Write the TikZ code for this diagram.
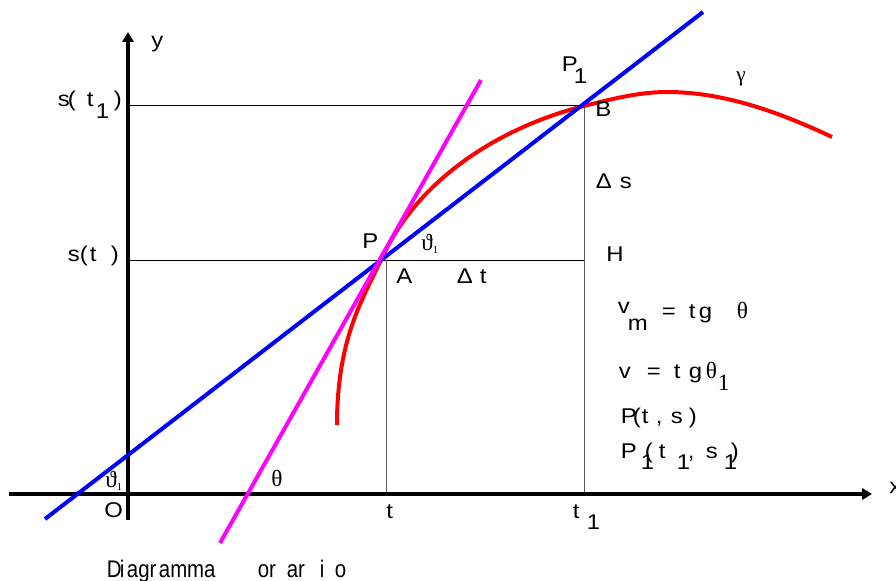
\documentclass[tikz,border=0pt]{standalone}
\usepackage{fontspec}
\setmainfont{Liberation Sans}
\newfontfamily\lblfont{Liberation Sans}[FakeStretch=1.12]
\newfontfamily\ttlfont{Liberation Sans}[FakeStretch=0.85]
\newfontfamily\grk{Liberation Serif}
\usetikzlibrary{arrows.meta}
\newdimen\pxu \pxu=0.75pt
\newcommand{\placeat}[2]{\makebox[0pt][l]{\hspace{#1\pxu}#2}}
\newcommand{\lowone}{\raisebox{-8.5pt}{1}}
\newcommand{\grbig}{\grk\fontsize{17.5}{18}\selectfont}
\newcommand{\varthone}{{\grbig ϑ}\raisebox{-0.3ex}{\grk\fontsize{8}{8}\selectfont 1}}
\definecolor{mgt}{RGB}{255,0,255}
\definecolor{pblue}{RGB}{0,0,255}
\definecolor{pred}{RGB}{255,0,0}
\begin{document}
\begin{tikzpicture}[x=0.75pt,y=-0.75pt,
  lbl/.style={inner sep=0pt, anchor=base west, font=\lblfont\fontsize{16}{18}\selectfont},
  axisline/.style={line width=3pt, -{Triangle[length=7.5pt,width=8.5pt]}},
  gridh/.style={line width=0.75pt, black},
  gridv/.style={line width=0.75pt, black!65},
  curvepen/.style={line width=3pt}]
\useasboundingbox (0,0) rectangle (896,581);
% coordinates
\coordinate (xs) at (9,494); \coordinate (xe) at (872,494);
\coordinate (ys) at (128,520); \coordinate (ye) at (128,32);
\coordinate (S1) at (128,106); \coordinate (B) at (584,106);
\coordinate (S0) at (128,260); \coordinate (H) at (584,260);
\coordinate (A) at (386,260); \coordinate (T) at (386,494); \coordinate (T1) at (584,494);
\coordinate (P) at (381,260);
\coordinate (top) at (667,92);
\coordinate (bl) at (45,519); \coordinate (bt) at (703,12);
\coordinate (ml) at (220,543); \coordinate (mt) at (481,80);
\coordinate (gs) at (337,425); \coordinate (ge) at (832,137);
% thin lines
\draw[gridh] (S1) -- (B);
\draw[gridh] (S0) -- (H);
\draw[gridv] (A) -- (T);
\draw[gridv] (B) -- (T1);
% axes
\draw[axisline] (xs) -- (xe);
\draw[axisline] (ys) -- (ye);
% curve gamma
\draw[curvepen, pred] (gs) .. controls (337,340) and (362,300) .. (P)
  .. controls (421.5,170) and (514,123.5) .. (B)
  .. controls (612,99) and (639,92) .. (top)
  .. controls (722,92) and (777,111) .. (ge);
% secant and tangent
\draw[curvepen, pblue] (bl) -- (bt);
\draw[curvepen, mgt] (ml) -- (mt);
% labels
\node[lbl] (ylab) at (151,48) {y};
\node[lbl] (xlab) at (889,493) {x};
\node[lbl] (st1) at (57,107) {\placeat{0}{s}\placeat{10}{(}\placeat{29}{t}\placeat{38}{\lowone}\placeat{56}{)}\hspace{62\pxu}};
\node[lbl] (st0) at (67,262) {\placeat{0}{s}\placeat{12}{(}\placeat{22}{t}\placeat{43}{)}\hspace{48\pxu}};
\node[lbl] (Plab) at (362,248) {P};
\node[lbl] (th1a) at (421,250) {\varthone};
\node[lbl] (Alab) at (396,283) {A};
\node[lbl] (dt) at (456,283) {\placeat{0}{Δ}\placeat{23}{t}\hspace{29\pxu}};
\node[lbl] (Hlab) at (606,261) {H};
\node[lbl] (P1lab) at (561,72) {\placeat{0}{P}\placeat{12}{\lowone}\hspace{22\pxu}};
\node[lbl] (Blab) at (595,117) {B};
\node[lbl] (gam) at (736,82) {\grk γ};
\node[lbl] (ds) at (595,189) {\placeat{0}{Δ}\placeat{24}{s}\hspace{34\pxu}};
\node[lbl] (vm) at (617,318) {\placeat{0}{\raisebox{3.75pt}{v}}\placeat{10}{\raisebox{-9pt}{m}}\placeat{44}{=}\placeat{71}{t}\placeat{81}{g}\placeat{119}{\grbig θ}\hspace{130\pxu}};
\node[lbl] (v) at (618,378) {\placeat{0}{v}\placeat{28}{=}\placeat{55}{t}\placeat{70}{g}\placeat{87}{\grbig θ}\placeat{99}{\grbig\raisebox{-9pt}{1}}\hspace{110\pxu}};
\node[lbl] (Pts) at (620,423) {\placeat{0}{P}\placeat{12}{(}\placeat{21}{t}\placeat{35}{,}\placeat{50}{s}\placeat{68}{)}\hspace{76\pxu}};
\node[lbl] (P1ts) at (620,458) {\placeat{0}{P}\placeat{20}{\lowone}\placeat{24}{(}\placeat{38}{t}\placeat{56}{\lowone}\placeat{67}{,}\placeat{85}{s}\placeat{103}{\lowone}\placeat{110}{)}\hspace{118\pxu}};
\node[lbl] (th1o) at (105,487) {\varthone};
\node[lbl] (Olab) at (104,517) {O};
\node[lbl] (thm) at (271,486) {\grbig θ};
\node[lbl] (tlab) at (386,518) {t};
\node[lbl] (t1lab) at (572,518) {\placeat{0}{t}\placeat{14}{\lowone}\hspace{26\pxu}};
\node[lbl, font=\ttlfont\fontsize{18}{20}\selectfont] (title) at (106,577) {\placeat{0}{D}\placeat{13}{i}\placeat{20}{agr}\placeat{52}{amma}\placeat{151}{or}\placeat{180}{ar}\placeat{213}{i}\placeat{228}{o}\hspace{242\pxu}};
\end{tikzpicture}
\end{document}
